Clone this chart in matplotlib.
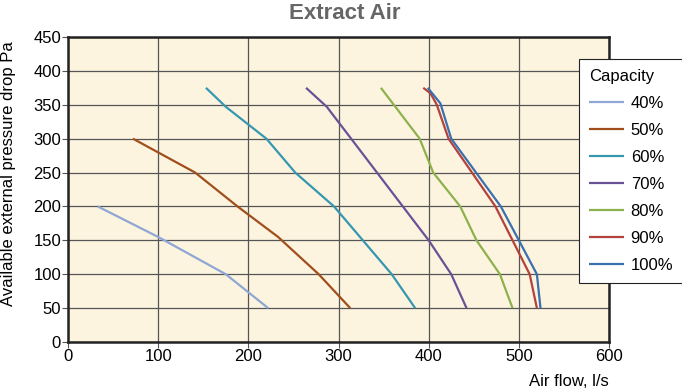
import numpy as np
import matplotlib.pyplot as plt

# capacity curves: (air flow l/s, pressure Pa)
labels = ['40%', '50%', '60%', '70%', '80%', '90%', '100%']
flow_40 = [33, 100, 175, 222]
pa_40 = [200, 155, 100, 50]
flow_50 = [72, 141, 188, 233, 278, 313]
pa_50 = [300, 250, 200, 155, 100, 50]
flow_60 = [153, 175, 220, 252, 295, 359, 385]
pa_60 = [375, 347, 300, 250, 200, 100, 50]
flow_70 = [264, 287, 314, 400, 425, 442]
pa_70 = [375, 347, 300, 150, 100, 50]
flow_80 = [347, 390, 405, 435, 453, 479, 493]
pa_80 = [375, 300, 250, 200, 150, 100, 50]
flow_90 = [394, 402, 409, 422, 474, 512, 520]
pa_90 = [375, 367, 350, 300, 200, 100, 50]
flow_100 = [399, 413, 425, 480, 520, 524]
pa_100 = [375, 352, 300, 200, 100, 50]

flows = [flow_40, flow_50, flow_60, flow_70, flow_80, flow_90, flow_100]
pas = [pa_40, pa_50, pa_60, pa_70, pa_80, pa_90, pa_100]
colors = ['#8ea7d4', '#a04f1c', '#3597b0', '#6b5196', '#8db24c', '#b3423c', '#3b6fae']

plt.rcParams['font.family'] = ['Liberation Sans', 'DejaVu Sans']

fig = plt.figure(figsize=(6.82, 3.91), dpi=100)
ax = fig.add_axes([0.0997, 0.1253, 0.7933, 0.7801])
ax.set_facecolor('#fdf4e0')

for f, p, c, lab in zip(flows, pas, colors, labels):
    ax.plot(f, p, color=c, lw=1.6, label=lab, solid_capstyle='butt')

ax.set_xlim(0, 600)
ax.set_ylim(0, 450)
ax.set_xticks(np.arange(0, 601, 100))
ax.set_yticks(np.arange(0, 451, 50))
ax.grid(True, color='#555555', lw=0.9)
ax.set_axisbelow(True)
for s in ax.spines.values():
    s.set_linewidth(1.8)
    s.set_color('#222222')
ax.tick_params(direction='out', length=4, width=0.8, color='#555555',
               labelsize=12, pad=1)

fig.text(0.505, 0.965, 'Extract Air', ha='center', va='center', fontsize=16,
         fontweight='bold', color='#666666')
fig.text(0.893, 0.025, 'Air flow, l/s', ha='right', va='center', fontsize=12)
fig.text(0.013, 0.555, 'Available external pressure drop Pa', rotation=90,
         ha='center', va='center', fontsize=12)

leg = fig.legend(loc='upper left', bbox_to_anchor=(0.849, 0.849), title='Capacity',
                 fontsize=12, title_fontsize=12, frameon=True, fancybox=False,
                 edgecolor='#222222', framealpha=1, handlelength=2.1,
                 borderpad=0.6, labelspacing=0.72, handletextpad=0.4,
                 borderaxespad=0)
leg._legend_box.align = 'left'
leg.get_frame().set_linewidth(0.8)

fig.savefig('out.png', dpi=100)
